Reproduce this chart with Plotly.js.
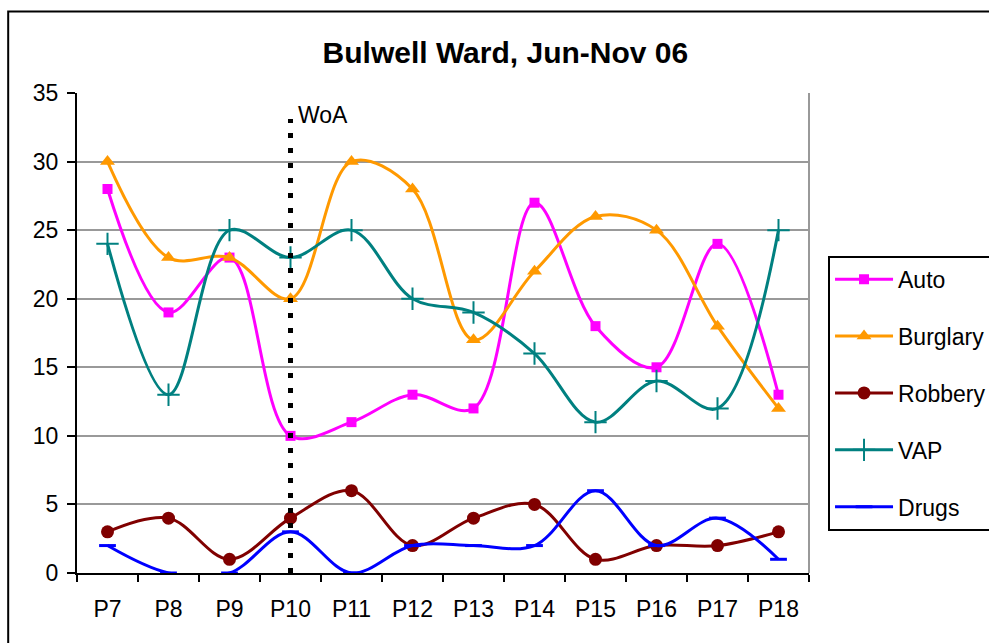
<!DOCTYPE html>
<html>
<head>
<meta charset="utf-8">
<script src="https://cdn.plot.ly/plotly-3.0.1.min.js"></script>
<style>html,body{margin:0;padding:0;background:#fff;}#chart{width:989px;height:643px;}</style>
</head>
<body>
<div id="chart"></div>
<script>
const categories = ["P7","P8","P9","P10","P11","P12","P13","P14","P15","P16","P17","P18"];
const auto     = [28, 19, 23, 10, 11, 13, 12, 27, 18, 15, 24, 13];
const burglary = [30, 23, 23, 20, 30, 28, 17, 22, 26, 25, 18, 12];
const robbery  = [3, 4, 1, 4, 6, 2, 4, 5, 1, 2, 2, 3];
const vap      = [24, 13, 25, 23, 25, 20, 19, 16, 11, 14, 12, 25];
const drugs    = [2, 0, 0, 3, 0, 2, 2, 2, 6, 2, 4, 1];
const woaCategory = "P10";
const woaTop = 33.1;
const woaLabel = "WoA";

function series(name, y, color, marker) {
  return {
    type: "scatter", mode: "lines+markers", name: name, x: categories, y: y,
    legendgroup: name,
    line: {color: color, width: 3, shape: "spline", smoothing: 1},
    marker: Object.assign({color: color}, marker),
    cliponaxis: false
  };
}

const data = [
  series("Auto", auto, "#FF00FF", {symbol: "square", size: 10}),
  series("Burglary", burglary, "#FF9900", {symbol: "triangle-up", size: 13}),
  series("Robbery", robbery, "#800000", {symbol: "circle", size: 13}),
  series("VAP", vap, "#008080", {symbol: "cross-thin", size: 16, line: {color: "#008080", width: 2}}),
  series("Drugs", drugs, "#0000FF", {symbol: "line-ew", size: 12, line: {color: "#0000FF", width: 3}}),
  {
    type: "scatter", mode: "lines", x: [woaCategory, woaCategory], y: [0, woaTop],
    showlegend: false, hoverinfo: "skip",
    line: {color: "#000000", width: 5, dash: "5px,10px"}
  }
];

const layout = {
  width: 989, height: 643,
  paper_bgcolor: "#ffffff", plot_bgcolor: "#ffffff",
  margin: {l: 77, r: 180, t: 93, b: 70, autoexpand: false},
  font: {family: "Liberation Sans, Arial, sans-serif", color: "#000000", size: 23},
  title: {text: "<b>Bulwell Ward, Jun-Nov 06</b>", font: {size: 30, color: "#000"}, x: 0.511, xanchor: "center", y: 0.919, yanchor: "middle"},
  showlegend: true,
  legend: {
    x: 1.026, xanchor: "left", y: 0.661, yanchor: "top",
    bordercolor: "#000000", borderwidth: 2, bgcolor: "#ffffff",
    font: {size: 23}, tracegroupgap: 24, itemwidth: 58,
    traceorder: "grouped"
  },
  xaxis: {
    type: "category", categoryorder: "array", categoryarray: categories,
    range: [-0.5, categories.length - 0.5],
    showline: true, linecolor: "#000000", linewidth: 2,
    ticks: "outside", tickson: "boundaries", ticklen: 7, tickwidth: 2, tickcolor: "#000",
    showgrid: false, zeroline: false, tickfont: {size: 23}, ticklabelstandoff: 14
  },
  yaxis: {
    range: [0, 35], dtick: 5, tick0: 0,
    showline: true, linecolor: "#000000", linewidth: 2,
    ticks: "outside", ticklen: 8, tickwidth: 2, tickcolor: "#000",
    showgrid: true, gridcolor: "#999999", gridwidth: 2, zeroline: false,
    tickfont: {size: 23}, ticklabelstandoff: 4
  },
  shapes: [
    {type: "line", xref: "paper", yref: "paper", x0: 1, x1: 1, y0: 0, y1: 1, line: {color: "#999999", width: 2}},
    {type: "rect", xref: "paper", yref: "paper", x0: -0.094, x1: 1.4, y0: -0.3, y1: 1.17, line: {color: "#000000", width: 2}, fillcolor: "rgba(0,0,0,0)", layer: "below"}
  ],
  annotations: [
    {x: woaCategory, y: woaTop, xref: "x", yref: "y", text: woaLabel, showarrow: false, xanchor: "left", yanchor: "middle", xshift: 5, yshift: 4, font: {size: 23}}
  ]
};

Plotly.newPlot("chart", data, layout, {displayModeBar: false, staticPlot: true});
</script>
</body>
</html>
